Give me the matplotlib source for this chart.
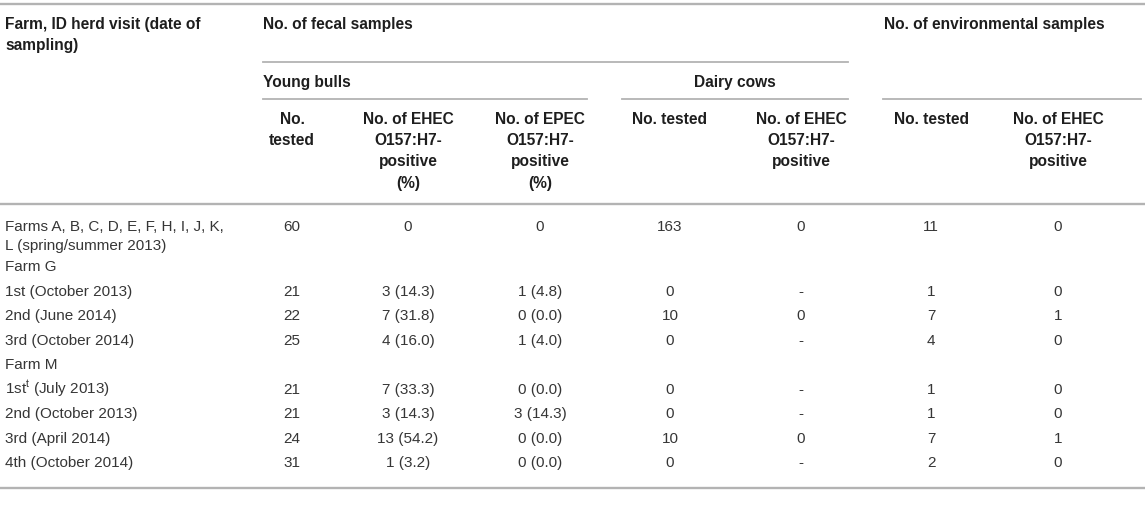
import matplotlib
matplotlib.use('Agg')
import matplotlib.pyplot as plt

plt.rcParams['font.family'] = ['Liberation Sans', 'DejaVu Sans']

# row labels (first column)
row_labels = [
    'Farms A, B, C, D, E, F, H, I, J, K,\nL (spring/summer 2013)',
    'Farm G',
    '1st (October 2013)',
    '2nd (June 2014)',
    '3rd (October 2014)',
    'Farm M',
    '1st$^{\\mathregular{t}}$ (July 2013)',
    '2nd (October 2013)',
    '3rd (April 2014)',
    '4th (October 2014)',
]

# young bulls
yb_tested = ['60', '', '21', '22', '25', '', '21', '21', '24', '31']
yb_ehec = ['0', '', '3 (14.3)', '7 (31.8)', '4 (16.0)', '', '7 (33.3)', '3 (14.3)', '13 (54.2)', '1 (3.2)']
yb_epec = ['0', '', '1 (4.8)', '0 (0.0)', '1 (4.0)', '', '0 (0.0)', '3 (14.3)', '0 (0.0)', '0 (0.0)']
# dairy cows
dc_tested = ['163', '', '0', '10', '0', '', '0', '0', '10', '0']
dc_ehec = ['0', '', '-', '0', '-', '', '-', '-', '0', '-']
# environmental samples
env_tested = ['11', '', '1', '7', '4', '', '1', '1', '7', '2']
env_ehec = ['0', '', '0', '1', '0', '', '0', '0', '1', '0']

sub_headers = ['No.\ntested', 'No. of EHEC\nO157:H7-\npositive\n(%)', 'No. of EPEC\nO157:H7-\npositive\n(%)',
               'No. tested', 'No. of EHEC\nO157:H7-\npositive',
               'No. tested', 'No. of EHEC\nO157:H7-\npositive']

col_x = [292, 408, 540, 670, 801, 931, 1058]
row_y = [226, 266, 291, 315, 340, 364, 389, 413, 438, 462]

fig = plt.figure(figsize=(11.45, 5.11), dpi=100)
ax = fig.add_axes([0, 0, 1, 1])
ax.set_xlim(0, 1145)
ax.set_ylim(511, 0)
ax.axis('off')

line_c = '#b3b3b3'
head_c = '#1e1e1e'
body_c = '#363636'
fs = 11
fsb = 11.2

# rules
ax.plot([0, 1145], [4, 4], color=line_c, lw=1.7)
ax.plot([0, 1145], [204, 204], color=line_c, lw=1.7)
ax.plot([0, 1145], [488, 488], color=line_c, lw=1.7)
ax.plot([263, 848], [62, 62], color=line_c, lw=1.3)
ax.plot([263, 587], [99, 99], color=line_c, lw=1.3)
ax.plot([622, 848], [99, 99], color=line_c, lw=1.3)
ax.plot([883, 1141], [99, 99], color=line_c, lw=1.3)

# headers
ax.text(5, 29, 'Farm, ID herd visit (date of', fontsize=fsb, fontweight='bold', color=head_c, va='baseline')
ax.text(5, 50, 'sampling)', fontsize=fsb, fontweight='bold', color=head_c, va='baseline')
ax.text(263, 29, 'No. of fecal samples', fontsize=fsb, fontweight='bold', color=head_c, va='baseline')
ax.text(884, 29, 'No. of environmental samples', fontsize=fsb, fontweight='bold', color=head_c, va='baseline')
ax.text(263, 87, 'Young bulls', fontsize=fsb, fontweight='bold', color=head_c, va='baseline')
ax.text(735, 87, 'Dairy cows', fontsize=fsb, fontweight='bold', color=head_c, va='baseline', ha='center')
for x, h in zip(col_x, sub_headers):
    for k, part in enumerate(h.split('\n')):
        ax.text(x, 124 + k * 21.2, part, fontsize=fsb, fontweight='bold', color=head_c,
                va='baseline', ha='center')

# body
for i, y in enumerate(row_y):
    for k, part in enumerate(row_labels[i].split('\n')):
        ax.text(5, y + 5 + k * 19, part, fontsize=fs, color=body_c, va='baseline', ha='left')
    cols = [yb_tested[i], yb_ehec[i], yb_epec[i], dc_tested[i], dc_ehec[i], env_tested[i], env_ehec[i]]
    for x, v in zip(col_x, cols):
        ax.text(x, y + 5, v, fontsize=fs, color=body_c, va='baseline', ha='center')

fig.savefig('out.png', dpi=100)
